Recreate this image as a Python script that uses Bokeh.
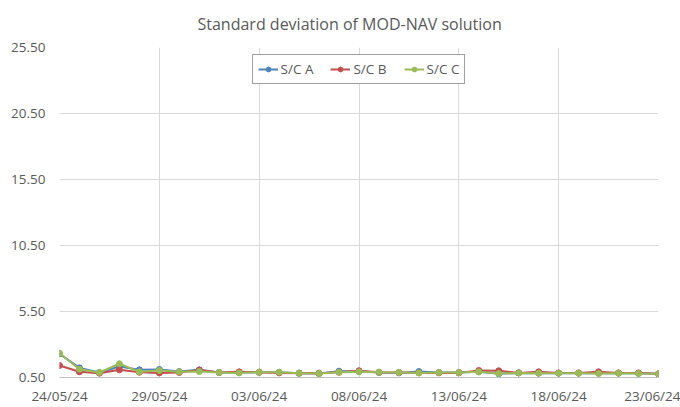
from datetime import datetime
from bokeh.plotting import figure
from bokeh.models import (FixedTicker, DatetimeTickFormatter, NumeralTickFormatter, Range1d,
                          Legend, LegendItem, Title)
from bokeh.embed import file_html
from bokeh.resources import INLINE

dates = ["2024-05-24", "2024-05-25", "2024-05-26", "2024-05-27", "2024-05-28", "2024-05-29",
         "2024-05-30", "2024-05-31", "2024-06-01", "2024-06-02", "2024-06-03", "2024-06-04",
         "2024-06-05", "2024-06-06", "2024-06-07", "2024-06-08", "2024-06-09", "2024-06-10",
         "2024-06-11", "2024-06-12", "2024-06-13", "2024-06-14", "2024-06-15", "2024-06-16",
         "2024-06-17", "2024-06-18", "2024-06-19", "2024-06-20", "2024-06-21", "2024-06-22",
         "2024-06-23"]

sc_a = [2.29, 1.23, 0.88, 1.33, 1.08, 1.11, 0.95, 1.08, 0.88, 0.88, 0.90, 0.90, 0.83, 0.80,
        0.98, 0.98, 0.88, 0.85, 0.95, 0.88, 0.88, 0.93, 0.78, 0.85, 0.83, 0.83, 0.83, 0.83,
        0.83, 0.82, 0.78]
sc_b = [1.41, 0.93, 0.83, 1.08, 0.90, 0.85, 0.88, 1.06, 0.88, 0.93, 0.90, 0.85, 0.83, 0.83,
        0.90, 1.01, 0.90, 0.88, 0.85, 0.85, 0.85, 1.03, 1.01, 0.85, 0.93, 0.85, 0.85, 0.93,
        0.85, 0.85, 0.78]
sc_c = [2.34, 1.13, 0.88, 1.54, 0.93, 1.03, 0.93, 0.95, 0.88, 0.85, 0.90, 0.90, 0.83, 0.80,
        0.90, 0.93, 0.90, 0.88, 0.85, 0.88, 0.88, 0.93, 0.80, 0.85, 0.83, 0.83, 0.83, 0.80,
        0.83, 0.80, 0.78]

series_names = ["S/C A", "S/C B", "S/C C"]
series_colors = ["#4F81BD", "#C0504D", "#9BBB59"]
x_tick_dates = ["2024-05-24", "2024-05-29", "2024-06-03", "2024-06-08", "2024-06-13",
                "2024-06-18", "2024-06-23"]
y_ticks = [0.5, 5.5, 10.5, 15.5, 20.5, 25.5]

FONT = "Open Sans"
TXT = "#595959"
GRID = "#D9D9D9"

EPOCH = datetime(1970, 1, 1)
xs = [datetime.strptime(d, "%Y-%m-%d") for d in dates]
x_ticks_ms = [(datetime.strptime(d, "%Y-%m-%d") - EPOCH).total_seconds() * 1000
              for d in x_tick_dates]

p = figure(width=680, height=407, output_backend="svg", toolbar_location=None,
           x_axis_type="datetime",
           x_range=Range1d(xs[0], xs[-1]), y_range=Range1d(0.5, 25.5),
           min_border_left=59, min_border_right=22, min_border_top=47, min_border_bottom=30)

# spacer between frame and title (pushes the title upward)
p.add_layout(Title(text=" ", text_font_size="5px", standoff=0), "above")

p.title.text = "Standard deviation of MOD-NAV solution"
p.title.align = "left"
p.title.offset = 138
p.title.text_font = FONT
p.title.text_font_size = "16px"
p.title.text_font_style = "normal"
p.title.text_color = TXT

p.outline_line_color = None
p.background_fill_color = "white"
p.border_fill_color = "white"

p.xaxis.ticker = FixedTicker(ticks=x_ticks_ms)
p.xaxis.formatter = DatetimeTickFormatter(days="%d/%m/%y", months="%d/%m/%y")
p.yaxis.ticker = FixedTicker(ticks=y_ticks)
p.yaxis.formatter = NumeralTickFormatter(format="0.00")

for ax in (p.xaxis, p.yaxis):
    ax.major_label_text_font = FONT
    ax.major_label_text_font_size = "13.5px"
    ax.major_label_text_color = TXT
    ax.major_tick_line_color = None
    ax.minor_tick_line_color = None
    ax.major_tick_out = 0
    ax.major_tick_in = 0
p.xaxis.axis_line_color = "#BFBFBF"
p.yaxis.axis_line_color = None
p.xaxis.major_label_standoff = 9
p.yaxis.major_label_standoff = 14

p.xgrid.grid_line_color = GRID
p.ygrid.grid_line_color = GRID

items = []
for name, vals, col in zip(series_names, [sc_a, sc_b, sc_c], series_colors):
    r1 = p.line(xs, vals, line_color=col, line_width=2)
    r2 = p.scatter(xs, vals, marker="circle", size=6, fill_color=col, line_color=col)
    items.append(LegendItem(label=name, renderers=[r1, r2]))

legend = Legend(items=items, orientation="horizontal", location="top_center")
legend.label_text_font = FONT
legend.label_text_font_size = "13.5px"
legend.label_text_color = TXT
legend.border_line_color = "#404040"
legend.border_line_width = 1
legend.padding = 5
legend.spacing = 17
legend.margin = 7
legend.glyph_width = 20
legend.glyph_height = 12
legend.label_standoff = 3
legend.label_height = 12
legend.background_fill_alpha = 1
p.add_layout(legend, "center")

open("out.html", "w").write(file_html(p, INLINE))
